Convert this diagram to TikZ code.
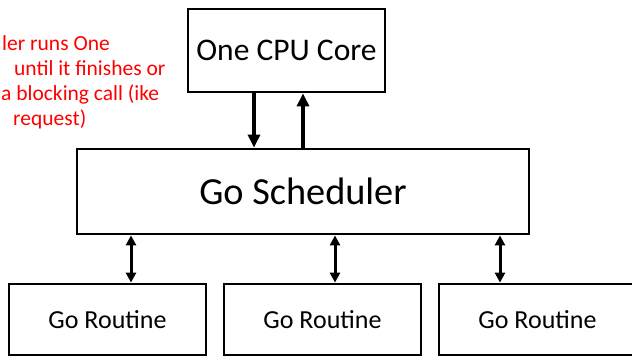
\documentclass[tikz,border=0pt]{standalone}
\usepackage{fontspec}
\setmainfont{Carlito}
\usetikzlibrary{arrows.meta}

\begin{document}
\begin{tikzpicture}[x=1pt, y=-1pt,
    box/.style={draw, line width=2.8pt, inner sep=0pt, align=center},
    arr/.style={line width=3.2pt, -{Triangle[width=12pt,length=13pt]}},
    dbl/.style={line width=3pt, {Triangle[width=10pt,length=10pt]}-{Triangle[width=10pt,length=10pt]}},
    note/.style={anchor=base west, inner sep=0pt, text=red, font=\fontsize{21.5}{25}\selectfont}]
    \useasboundingbox (0,0) rectangle (632,357);
    \node[box, minimum width=197pt, minimum height=83pt, font=\fontsize{31.5}{36}\selectfont]
        (cpu) at (286.5,50.5) {One CPU Core};
    \node[box, minimum width=452pt, minimum height=85pt, font=\fontsize{38.3}{42}\selectfont]
        (sched) at (303,191.5) {Go Scheduler};
    \node[box, minimum width=197pt, minimum height=71pt, font=\fontsize{26}{30}\selectfont]
        (r1) at (107.5,319.5) {Go Routine};
    \node[box, minimum width=197pt, minimum height=71pt, font=\fontsize{26}{30}\selectfont]
        (r2) at (322.5,319.5) {Go Routine};
    \node[box, minimum width=197pt, minimum height=71pt, font=\fontsize{26}{30}\selectfont]
        (r3) at (537.5,319.5) {Go Routine};
    % cut-off remark at the left edge
    \node[note] (n1) at (2,50) {ler runs One};
    \node[note] (n2) at (14,75) {until it finishes or};
    \node[note] (n3) at (1,100) {a blocking call (ike};
    \node[note] (n4) at (13,125) {request)};
    \draw[arr] ([xshift=-32.5pt]cpu.south) -- ([xshift=-32.5pt]cpu.south |- sched.north);
    \draw[arr] ([xshift=16.5pt]cpu.south |- sched.north) -- ([xshift=16.5pt]cpu.south);
    \draw[dbl] ([xshift=23.5pt]r1.north |- sched.south) -- ([xshift=23.5pt]r1.north);
    \draw[dbl] ([xshift=12.5pt]r2.north |- sched.south) -- ([xshift=12.5pt]r2.north);
    \draw[dbl] ([xshift=-37.5pt]r3.north |- sched.south) -- ([xshift=-37.5pt]r3.north);
\end{tikzpicture}
\end{document}
